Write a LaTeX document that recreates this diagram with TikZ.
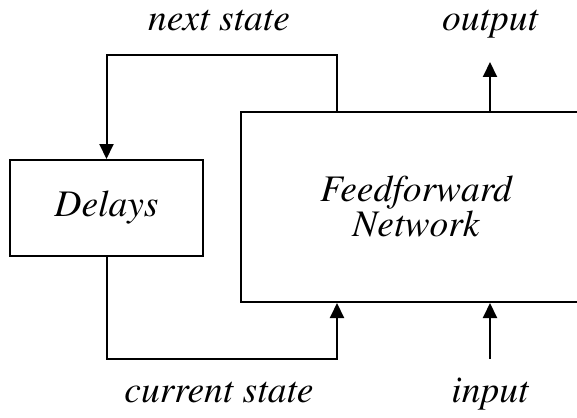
\documentclass[tikz,border=0pt]{standalone}
\usepackage[T1]{fontenc}
\usepackage{times}
\usetikzlibrary{arrows.meta}
\begin{document}
\begin{tikzpicture}[x=1pt,y=-1pt,
  line width=2pt,
  txt/.style={font=\fontsize{37.5}{35}\selectfont\itshape},
  block/.style={draw, rectangle, inner sep=0pt, txt, align=center},
  lbl/.style={txt, inner sep=0pt, anchor=base},
  arr/.style={-{Triangle[length=15pt,width=14pt]}}]
  \useasboundingbox (0,0) rectangle (577,417);

  % blocks
  \node[block, minimum width=193pt, minimum height=96pt] (dl) at (106.5,208) {Delays};
  \node[block, minimum width=350pt, minimum height=190pt, text width=300pt] (ff) at (416,207) {Feedforward\\Network};

  % bends of the feedback loop and free ends
  \coordinate (tr) at (337,55);
  \coordinate (tl) at (106.5,55);
  \coordinate (br) at (337,359);
  \coordinate (bl) at (106.5,359);
  \coordinate (out) at (490,62);
  \coordinate (in) at (490,359);

  % next state back to the delays
  \draw[arr] (tr |- ff.north) -- (tr) -- (tl) -- (dl.north);
  % current state into the network
  \draw[arr] (dl.south) -- (bl) -- (br) -- (br |- ff.south);
  % output and input
  \draw[arr] (out |- ff.north) -- (out);
  \draw[arr] (in) -- (in |- ff.south);

  % labels
  \node[lbl] (lns) at (219,31) {next state};
  \node[lbl] (lout) at (490,31) {output};
  \node[lbl] (lcs) at (219,402) {current state};
  \node[lbl] (lin) at (490,402) {input};
\end{tikzpicture}
\end{document}
